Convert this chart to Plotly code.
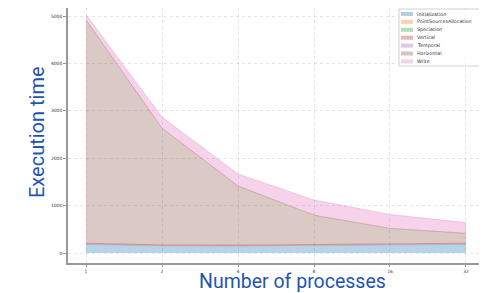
import plotly.graph_objects as go

processes = ["1", "2", "4", "8", "16", "32"]
series_names = ["Initialization", "PointSourcesAllocation", "Speciation", "Vertical",
                "Temporal", "Horizontal", "Write"]
initialization = [183, 152, 148, 158, 168, 183]
point_sources = [1, 1, 1, 1, 1, 1]
speciation = [1, 1, 1, 1, 1, 1]
vertical = [20, 18, 17, 17, 18, 20]
temporal = [1, 1, 1, 1, 1, 1]
horizontal = [4710, 2460, 1245, 620, 330, 210]
write = [110, 235, 255, 320, 295, 225]

base_colors = [(31, 119, 180), (255, 127, 14), (44, 160, 44), (214, 39, 40),
               (148, 103, 189), (140, 86, 75), (227, 119, 194)]
line_widths = [0.6, 0, 0, 0.9, 0, 0.8, 0.8]
values = [initialization, point_sources, speciation, vertical, temporal, horizontal, write]

fig = go.Figure()
xs = list(range(len(processes)))
for name, vals, c, lw in zip(series_names, values, base_colors, line_widths):
    fig.add_trace(go.Scatter(
        x=xs, y=vals, name=name, mode="lines", stackgroup="one",
        line=dict(width=lw, color=f"rgba({c[0]},{c[1]},{c[2]},0.4)"),
        fillcolor=f"rgba({c[0]},{c[1]},{c[2]},0.32)",
        showlegend=False,
    ))

# page body has an 8px margin: figure pixel = screen pixel - 8
OFF = 8
FW, FH = 487 - OFF, 293 - OFF
# plot area in screen pixels
L, R, T, B = 68, 484, 8, 263
W, H = R - L, B - T
def px(x): return (x - L) / W
def py(y): return (B - y) / H

shapes = []
annotations = []
# legend box
shapes.append(dict(type="rect", xref="paper", yref="paper",
                   x0=px(399), x1=px(483), y0=py(66), y1=py(9),
                   line=dict(color="rgba(0,0,0,0.18)", width=1),
                   fillcolor="rgba(255,255,255,0.85)", layer="above"))
row_y = 14
for name, c in zip(series_names, base_colors):
    shapes.append(dict(type="rect", xref="paper", yref="paper",
                       x0=px(401), x1=px(413), y0=py(row_y + 2), y1=py(row_y - 2),
                       line=dict(width=0),
                       fillcolor=f"rgba({c[0]},{c[1]},{c[2]},0.35)", layer="above"))
    annotations.append(dict(xref="paper", yref="paper", x=px(416), y=py(row_y),
                            text=name, showarrow=False, xanchor="left", yanchor="middle",
                            borderpad=0,
                            font=dict(size=4.8, color="#333", family="DejaVu Sans")))
    row_y += 7.9

# axis titles
annotations.append(dict(xref="paper", yref="paper", x=px(292), y=py(281.5),
                        text="Number of processes", showarrow=False,
                        xanchor="center", yanchor="middle", borderpad=0,
                        font=dict(size=19.5, color="#1f55b0", family="Roboto")))
annotations.append(dict(xref="paper", yref="paper", x=px(37), y=py(132),
                        text="Execution time", showarrow=False, textangle=-90,
                        xanchor="center", yanchor="middle", borderpad=0,
                        font=dict(size=20, color="#1f55b0", family="Roboto")))

fig.update_layout(
    width=FW, height=FH,
    margin=dict(l=L - OFF, r=487 - R, t=T - OFF, b=293 - B, autoexpand=False),
    plot_bgcolor="white", paper_bgcolor="white",
    shapes=shapes, annotations=annotations,
    xaxis=dict(
        tickmode="array", tickvals=xs, ticktext=processes,
        range=[-0.237, 5.237], automargin=False,
        showgrid=True, gridcolor="rgba(0,0,0,0.10)", griddash="dot", gridwidth=1,
        showline=True, linecolor="#999", linewidth=1.5, mirror=True,
        ticks="outside", ticklen=2.5, tickcolor="#999",
        tickfont=dict(size=4.5, color="#333", family="DejaVu Sans"),
        zeroline=False,
    ),
    yaxis=dict(
        range=[-211, 5169], automargin=False,
        tickvals=[0, 1000, 2000, 3000, 4000, 5000],
        showgrid=True, gridcolor="rgba(0,0,0,0.10)", griddash="dot", gridwidth=1,
        showline=True, linecolor="#999", linewidth=1.5, mirror=True,
        ticks="outside", ticklen=3, tickcolor="#999",
        tickfont=dict(size=4.5, color="#333", family="DejaVu Sans"),
        zeroline=False,
    ),
)

fig.write_html("out.html")
